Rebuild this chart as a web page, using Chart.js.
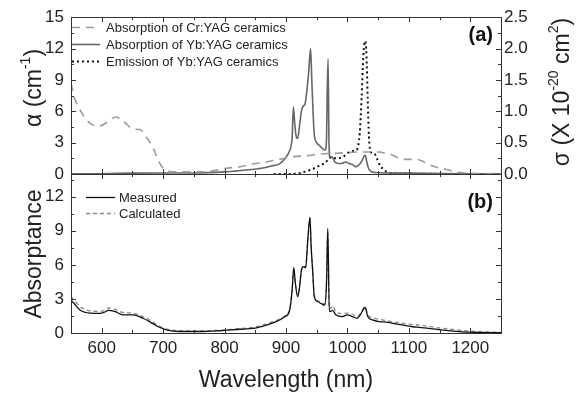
<!DOCTYPE html>
<html>
<head>
<meta charset="utf-8">
<script src="https://cdn.jsdelivr.net/npm/chart.js@4.4.1/dist/chart.umd.min.js"></script>
<style>
  html, body { margin: 0; padding: 0; background: #fff; }
  #wrap { position: relative; width: 578px; height: 395px; }
  #wrap canvas { position: absolute; left: 0; top: 0; }
</style>
</head>
<body>
<div id="wrap">
  <canvas id="topChart" width="578" height="395"></canvas>
  <canvas id="bottomChart" width="578" height="395"></canvas>
</div>
<script>
// (a) absorption of Cr:YAG ceramics, alpha in cm^-1
var crWl = [550, 555, 565, 575, 585, 597, 605, 613, 622, 630, 640, 651, 662, 673, 680, 686, 692, 700, 708, 716,
    738, 760, 781, 803, 825, 846, 868, 889, 911, 933, 954, 987, 1019, 1052, 1063, 1074, 1084, 1095, 1112, 1125,
    1133, 1145, 1160, 1182, 1200, 1225, 1250];
var crAlpha = [8.7, 7.4, 6.1, 5.2, 4.7, 4.6, 4.8, 5.1, 5.45, 5.3, 4.8, 4.3, 4.25, 3.5, 2.9, 2.2, 1.3, 0.55, 0.3, 0.2,
    0.2, 0.2, 0.3, 0.55, 0.7, 0.95, 1.15, 1.4, 1.65, 1.75, 1.9, 2.0, 2.1, 2.1, 1.95, 1.8, 1.5, 1.4, 1.4, 1.15,
    0.9, 0.65, 0.45, 0.15, 0.07, 0.05, 0.04];

// (a) absorption of Yb:YAG ceramics, alpha in cm^-1
var ybWl = [550, 600, 650, 700, 750, 800, 820, 840, 860, 875, 890, 900, 905, 908, 910, 912, 914, 916, 919, 922,
    925, 928, 931, 934, 937, 940, 942, 944, 946, 950, 955, 960, 964, 966, 967, 968.5, 970, 972, 975, 979,
    985, 990, 997, 1003, 1008, 1014, 1020, 1024, 1027, 1029, 1031, 1034, 1038, 1045, 1060, 1100, 1150, 1200, 1250];
var ybAlpha = [0.02, 0.03, 0.08, 0.1, 0.1, 0.2, 0.3, 0.4, 0.55, 0.75, 1.0, 1.6, 2.1, 2.6, 3.5, 6.4, 5.0, 3.8, 3.4, 4.6,
    6.0, 6.5, 6.7, 8.0, 9.8, 12.0, 9.0, 6.0, 3.8, 3.0, 2.7, 2.4, 2.3, 3.5, 7.5, 11.0, 3.0, 1.5, 1.65, 1.2,
    1.0, 1.0, 1.15, 1.0, 0.9, 0.7, 0.95, 1.3, 1.7, 1.8, 1.3, 0.6, 0.25, 0.15, 0.1, 0.08, 0.05, 0.03, 0.02];

// (a) emission cross section of Yb:YAG ceramics, sigma in 10^-20 cm^2
var emWl = [880, 900, 920, 938, 952, 965, 973, 981, 992, 1003, 1011, 1016, 1020, 1023, 1026, 1029, 1031, 1033, 1035, 1038,
    1044, 1048, 1052, 1058, 1063, 1080, 1250];
var emSigma = [0, 0, 0.01, 0.06, 0.12, 0.19, 0.27, 0.25, 0.27, 0.35, 0.37, 0.4, 0.65, 1.2, 1.9, 2.12, 1.9, 1.2, 0.6, 0.35,
    0.32, 0.25, 0.15, 0.08, 0.04, 0.01, 0];

// (b) absorptance, measured vs calculated
var absWl = [550, 555, 565, 581, 597, 605, 611, 621, 635, 651, 667, 678, 692, 705, 727, 760, 792, 825, 846, 868,
    884, 898, 906, 910, 912.7, 915, 919, 922, 925, 928, 932, 935.5, 939, 941, 943.5, 946, 952, 957, 963, 966,
    968, 970.5, 973, 976, 981, 992, 1000, 1008, 1016, 1022, 1025, 1029, 1033, 1041, 1052, 1063, 1084, 1106, 1117, 1149,
    1182, 1214, 1250];
var measured = [2.9, 2.6, 2.0, 1.75, 1.73, 1.85, 2.0, 1.9, 1.6, 1.6, 1.3, 1.0, 0.55, 0.28, 0.13, 0.13, 0.2, 0.33, 0.4, 0.7,
    1.0, 1.43, 2.0, 3.8, 5.75, 4.5, 3.2, 4.0, 5.5, 5.85, 5.75, 8.2, 10.2, 7.5, 5.4, 3.2, 2.75, 2.6, 2.45, 4.5,
    9.2, 1.9, 1.9, 2.0, 1.6, 1.45, 1.6, 1.45, 1.3, 1.7, 2.0, 2.25, 1.45, 1.15, 1.0, 0.95, 0.75, 0.55, 0.5, 0.3,
    0.12, 0.05, 0.03];
var calculated = [3.2, 2.9, 2.3, 1.95, 1.9, 2.0, 2.2, 2.1, 1.8, 1.75, 1.45, 1.15, 0.65, 0.35, 0.2, 0.18, 0.25, 0.38, 0.5, 0.8,
    1.1, 1.5, 2.1, 3.8, 5.7, 4.5, 3.3, 4.1, 5.5, 5.9, 5.8, 8.2, 10.1, 7.5, 5.5, 3.3, 2.85, 2.7, 2.55, 4.5,
    9.0, 2.1, 2.2, 2.4, 1.9, 1.7, 1.75, 1.65, 1.45, 1.8, 2.1, 2.3, 1.6, 1.35, 1.2, 1.1, 0.9, 0.75, 0.7, 0.45,
    0.25, 0.12, 0.06];

// labelled wavelength ticks
var wlTicks = [600, 700, 800, 900, 1000, 1100, 1200];

var FONT = "'Liberation Sans', Arial, Helvetica, sans-serif";
var INK = '#222';

function pts(xs, ys) {
    return xs.map((x, i) => ({ x: x, y: ys[i] }));
}

// text with superscripts, centred on (x, y) along its direction, y is the baseline
function drawRich(ctx, parts, x, y, size, rotate) {
    ctx.save();
    ctx.translate(x, y);
    if (rotate) ctx.rotate(-Math.PI / 2);
    var small = Math.round(size * 0.6);
    var w = 0;
    parts.forEach(p => {
        ctx.font = (p[1] ? small : size) + 'px ' + FONT;
        w += ctx.measureText(p[0]).width;
    });
    var cx = -w / 2;
    ctx.textAlign = 'left';
    ctx.textBaseline = 'alphabetic';
    ctx.fillStyle = INK;
    parts.forEach(p => {
        ctx.font = (p[1] ? small : size) + 'px ' + FONT;
        ctx.fillText(p[0], cx, p[1] ? -size * 0.48 : 0);
        cx += ctx.measureText(p[0]).width;
    });
    ctx.restore();
}

// frame, inward ticks, axis titles, legend and panel tag
var panelDeco = {
    id: 'panelDeco',
    afterDatasetsDraw(chart, args, o) {
        var ctx = chart.ctx, a = chart.chartArea;
        ctx.save();
        ctx.strokeStyle = '#333';
        ctx.lineWidth = 1;
        ctx.strokeRect(Math.round(a.left) + 0.5, Math.round(a.top) + 0.5, Math.round(a.width), Math.round(a.height));

        ctx.beginPath();
        var xs = chart.scales.x;
        for (var i = 0; xs.min + i * 50 <= xs.max; i++) {
            var v = xs.min + i * 50;
            var px = Math.round(xs.getPixelForValue(v)) + 0.5;
            var len = v % 100 === 0 ? 5 : 3;
            ctx.moveTo(px, a.bottom); ctx.lineTo(px, a.bottom - len);
            ctx.moveTo(px, a.top); ctx.lineTo(px, a.top + len);
        }
        o.yTicks.forEach(s => {
            var sc = chart.scales[s.id];
            var edge = s.side === 'left' ? a.left : a.right;
            var dir = s.side === 'left' ? 1 : -1;
            for (var j = 0; j * s.minor <= sc.max + 1e-9; j++) {
                var py = Math.round(sc.getPixelForValue(j * s.minor)) + 0.5;
                var l = j % 2 === 0 ? 5 : 3;
                ctx.moveTo(edge, py); ctx.lineTo(edge + dir * l, py);
            }
        });
        ctx.stroke();

        o.titles.forEach(t => drawRich(ctx, t.parts, t.x, t.y, 23, t.rotate));

        var lg = o.legend;
        chart.data.datasets.forEach((ds, k) => {
            var y = lg.rows[k];
            ctx.save();
            ctx.strokeStyle = ds.borderColor;
            ctx.lineWidth = ds.borderWidth;
            ctx.setLineDash(ds.borderDash || []);
            ctx.beginPath();
            ctx.moveTo(lg.x0, y + 0.5);
            ctx.lineTo(lg.x1, y + 0.5);
            ctx.stroke();
            ctx.restore();
            ctx.fillStyle = INK;
            ctx.font = '13px ' + FONT;
            ctx.textAlign = 'left';
            ctx.textBaseline = 'middle';
            ctx.fillText(ds.label, lg.tx, y + 1);
        });

        ctx.fillStyle = '#111';
        ctx.font = 'bold 20px ' + FONT;
        ctx.textAlign = 'right';
        ctx.textBaseline = 'middle';
        ctx.fillText(o.tag.text, o.tag.x, o.tag.y);
        ctx.restore();
    }
};

function lineSet(label, data, color, width, dash, axis) {
    return {
        label: label,
        data: data,
        borderColor: color,
        borderWidth: width,
        borderDash: dash,
        yAxisID: axis,
        pointRadius: 0,
        fill: false,
        cubicInterpolationMode: 'monotone'
    };
}

var tickFont = { family: FONT, size: 17 };

// Panel (a)
new Chart(document.getElementById('topChart'), {
    type: 'line',
    data: {
        datasets: [
            lineSet('Absorption of Cr:YAG ceramics', pts(crWl, crAlpha), '#9a9a9a', 1.6, [8, 6], 'y'),
            lineSet('Absorption of Yb:YAG ceramics', pts(ybWl, ybAlpha), '#666', 1.6, [], 'y'),
            lineSet('Emission of Yb:YAG ceramics', pts(emWl, emSigma), '#111', 2, [2, 3], 'y2')
        ]
    },
    options: {
        responsive: false,
        animation: false,
        layout: { padding: { top: 16, bottom: 221, left: 0, right: 0 } },
        plugins: {
            legend: { display: false },
            tooltip: { enabled: false },
            panelDeco: {
                yTicks: [{ id: 'y', side: 'left', minor: 1.5 }, { id: 'y2', side: 'right', minor: 0.25 }],
                titles: [
                    { parts: [['α (cm', 0], ['-1', 1], [')', 0]], x: 41, y: 88, rotate: true },
                    { parts: [['σ (X 10', 0], ['-20', 1], [' cm', 0], ['2', 1], [')', 0]], x: 569, y: 92, rotate: true }
                ],
                legend: { x0: 72, x1: 100, tx: 106, rows: [27, 44, 61] },
                tag: { text: '(a)', x: 493, y: 35 }
            }
        },
        scales: {
            x: { type: 'linear', min: 550, max: 1250, display: false },
            y: {
                position: 'left', min: 0, max: 15,
                grid: { display: false, drawTicks: false }, border: { display: false },
                ticks: { stepSize: 3, padding: 7, color: INK, font: tickFont },
                afterFit: s => { s.width = 71; }
            },
            y2: {
                position: 'right', min: 0, max: 2.5,
                grid: { display: false, drawTicks: false }, border: { display: false },
                ticks: { stepSize: 0.5, padding: 3, color: INK, font: tickFont, callback: v => v.toFixed(1) },
                afterFit: s => { s.width = 77; }
            }
        }
    },
    plugins: [panelDeco]
});

// Panel (b)
new Chart(document.getElementById('bottomChart'), {
    type: 'line',
    data: {
        datasets: [
            lineSet('Measured', pts(absWl, measured), '#111', 1.3, [], 'y'),
            lineSet('Calculated', pts(absWl, calculated), '#8a8a8a', 1.3, [4, 3], 'y')
        ]
    },
    options: {
        responsive: false,
        animation: false,
        layout: { padding: { top: 174, bottom: 0, left: 0, right: 77 } },
        plugins: {
            legend: { display: false },
            tooltip: { enabled: false },
            panelDeco: {
                yTicks: [{ id: 'y', side: 'left', minor: 1.5 }, { id: 'y', side: 'right', minor: 1.5 }],
                titles: [
                    { parts: [['Absorptance', 0]], x: 41, y: 254, rotate: true },
                    { parts: [['Wavelength (nm)', 0]], x: 286, y: 387, rotate: false }
                ],
                legend: { x0: 86, x1: 115, tx: 119, rows: [197, 213] },
                tag: { text: '(b)', x: 493, y: 202 }
            }
        },
        scales: {
            x: {
                type: 'linear', min: 550, max: 1250,
                grid: { display: false, drawTicks: false }, border: { display: false },
                ticks: { padding: 5, color: INK, font: tickFont, maxRotation: 0, autoSkip: false,
                    callback: v => String(v) },
                afterBuildTicks: s => { s.ticks = wlTicks.map(v => ({ value: v })); },
                afterFit: s => { s.height = 62; }
            },
            y: {
                position: 'left', min: 0, max: 14,
                grid: { display: false, drawTicks: false }, border: { display: false },
                ticks: { stepSize: 3, padding: 7, color: INK, font: tickFont,
                    callback: v => (v % 3 === 0 ? v : '') },
                afterFit: s => { s.width = 71; }
            }
        }
    },
    plugins: [panelDeco]
});
</script>
</body>
</html>
